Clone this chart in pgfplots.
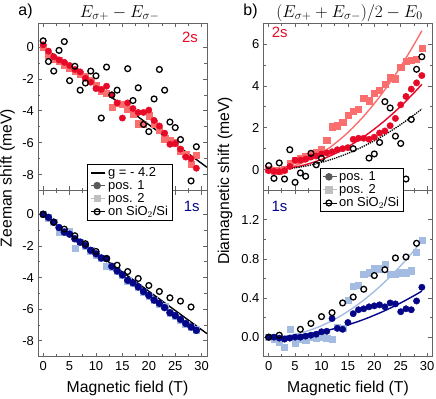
\documentclass[border=0pt]{standalone}
\usepackage{fontspec}
\setmainfont{Liberation Sans}
\usepackage{pgfplots}
\pgfplotsset{compat=1.18}

\definecolor{cred}{RGB}{230,10,40}
\definecolor{cpink}{RGB}{250,110,110}
\definecolor{cnavy}{RGB}{5,5,135}
\definecolor{clblue}{RGB}{165,188,226}
\definecolor{cframe}{RGB}{100,100,100}

\pgfplotsset{
  panel/.style={
    scale only axis, width=169bp,
    xmin=-1, xmax=31,
    xtick={0,5,...,30}, minor x tick num=1, minor y tick num=1,
    axis line style={cframe, line width=0.8bp},
    every tick/.style={cframe, line width=0.8bp},
    major tick length=4bp, minor tick length=2.5bp,
    tick label style={font=\fontsize{13}{13}\selectfont, black},
    /pgf/number format/assume math mode=true,
    xticklabel style={yshift=-1bp},
    yticklabel style={xshift=-0.5bp},
    legend style={font=\fontsize{13}{14}\selectfont, draw=black, line width=0.7bp,
      fill=white, inner xsep=2.5bp, inner ysep=1bp, row sep=-1.5bp,
      cells={anchor=west}, /tikz/every even column/.append style={column sep=1.5bp}},
    legend image code/.code={\path (0bp,0bp) -- (14bp,0bp); \draw[##1] plot coordinates {(6bp,0bp)};},
  },
  lineleg/.style={legend image code/.code={\draw[##1, line width=2bp] (0bp,0bp) -- (14bp,0bp);}},
  pA/.style={only marks, mark=*, mark size=3.2bp, color=#1, forget plot},
  pB/.style={only marks, mark=square*, mark size=3.1bp, color=#1, forget plot},
  pC/.style={only marks, mark=o, mark size=2.9bp, black, mark options={line width=1.3bp}, forget plot},
}

\begin{document}
\begin{tikzpicture}[x=1bp,y=1bp]
\path[use as bounding box] (0bp,0bp) rectangle (436bp,399bp);

% ---------------- top left: Zeeman 2s
\begin{axis}[panel, at={(37.9bp,208.5bp)}, anchor=south west, height=167.2bp,
  ymin=-9, ymax=1.5, ytick={-8,-6,-4,-2,0}, xticklabels={}]
\addplot[pB=cpink] coordinates {(0,0) (1,-0.5) (2,-0.75) (3,-0.85) (4,-1.1) (5,-1.3) (6,-1.5) (7,-1.7) (8,-1.85) (9,-2.05) (10,-2.4) (11,-2.75) (12,-2.9) (13,-3.75) (14,-3.5) (15,-3.6) (16,-3.9) (17,-4.2) (18,-4.8) (19,-4.85) (20,-4.3) (21,-4.8) (22,-5.2) (23,-5.75) (24,-5.85) (25,-6.0) (26,-6.5) (27,-6.7) (28,-7.35) (29,-6.8)};
\addplot[pA=cred] coordinates {(0,0.15) (1,-0.25) (2,-0.6) (3,-0.8) (4,-0.95) (5,-1.15) (6,-1.4) (7,-1.55) (8,-1.95) (9,-2.2) (10,-2.6) (11,-2.65) (12,-2.45) (13,-3.0) (14,-3.5) (15,-4.45) (16,-3.5) (17,-3.85) (18,-4.1) (19,-4.1) (20,-3.95) (21,-4.6) (22,-4.95) (23,-5.4) (24,-6.1) (25,-6.05) (26,-6.4) (27,-6.9) (28,-7.0) (29,-7.6)};
\addplot[pC] coordinates {(0,0.4) (1,-0.9) (2,-1.5) (3,-0.2) (4,0.35) (5,-2.1) (6,-1.2) (7,-2.7) (8,-2.25) (9,-1.5) (10,-1.8) (11,-4.45) (12,-1.25) (13,-3.0) (14,-2.7) (16,-1.35) (17,-3.35) (18,-2.55) (19,-4.85) (20,-5.3) (21,-3.25) (22,-1.4) (23,-2.7) (24,-4.7) (25,-5.05) (26,-5.8) (28,-8.4) (29,-6.25)};
\addplot[black, line width=1.4bp, forget plot] coordinates {(0,0) (31,-7.54)};
\end{axis}

% ---------------- bottom left: Zeeman 1s
\begin{axis}[panel, at={(37.9bp,42.3bp)}, anchor=south west, height=166.2bp,
  ymin=-9, ymax=1.5, ytick={-8,-6,-4,-2,0},
  legend style={at={(0.2923,1.1594)}, anchor=north west}]
\addlegendimage{black, lineleg}
\addlegendentry{g = - 4.2}
\addlegendimage{only marks, mark=*, mark size=3.4bp, color=black!65}
\addlegendentry{pos. 1}
\addlegendimage{only marks, mark=square*, mark size=3.2bp, color=black!25}
\addlegendentry{pos. 2}
\addlegendimage{only marks, mark=o, mark size=2.9bp, black, mark options={line width=1.3bp}}
\addlegendentry{on SiO$_2$/Si}
\addplot[pB=clblue] coordinates {(0,0) (1,-0.22) (2,-0.52) (3,-1.15) (4,-1.1) (5,-1.05) (6,-2.15) (7,-1.78) (8,-2.0) (9,-2.3) (10,-2.55) (11,-2.8) (12,-3.3) (13,-3.32) (14,-3.6) (15,-3.86) (16,-4.2) (17,-4.36) (18,-4.62) (19,-4.9) (20,-5.16) (21,-5.45) (22,-5.66) (23,-5.8) (24,-6.25) (25,-6.43) (26,-6.67) (27,-6.93) (28,-7.15) (29,-7.3)};
\addplot[pA=cnavy, mark size=3.5bp] coordinates {(0,0) (1,-0.2) (2,-0.5) (3,-0.84) (4,-1.13) (5,-1.26) (6,-1.55) (7,-1.76) (8,-1.97) (9,-2.28) (10,-2.5) (11,-2.76) (12,-2.8) (13,-3.29) (14,-3.58) (15,-3.83) (16,-4.17) (17,-4.33) (18,-4.59) (19,-4.88) (20,-5.13) (21,-5.42) (22,-5.63) (23,-5.9) (24,-6.22) (25,-6.4) (26,-6.64) (27,-6.9) (28,-7.12) (29,-7.33)};
\addplot[pC] coordinates {(0,0) (2,-0.5) (4,-0.94) (6,-1.36) (8,-1.86) (10,-2.35) (12,-2.8) (14,-3.22) (16,-3.62) (18,-4.06) (20,-4.5) (22,-4.88) (24,-5.28) (26,-5.49) (28,-5.86)};
\addplot[black, line width=1.4bp, forget plot] coordinates {(0,0) (31,-7.54)};
\end{axis}

% ---------------- top right: diamagnetic 2s
\begin{axis}[panel, at={(263.4bp,208.5bp)}, anchor=south west, height=167.2bp,
  ymin=-1, ymax=7, ytick={0,2,4,6}, xticklabels={}]
\addplot[pB=cpink] coordinates {(0,0.0) (1,-0.05) (2,-0.05) (3,0.0) (4,0.3) (5,0.45) (6,0.55) (7,0.65) (8,0.75) (9,0.85) (10,0.95) (11,1.4) (12,2.05) (13,2.1) (14,2.25) (15,2.6) (16,2.8) (17,2.9) (18,3.4) (19,3.3) (20,3.65) (21,3.8) (22,4.1) (23,4.4) (24,4.35) (25,4.9) (26,5.2) (27,5.25) (28,5.3) (29,5.8)};
\addplot[pA=cred] coordinates {(0,-0.05) (1,-0.08) (2,-0.1) (3,-0.05) (4,0.15) (5,0.45) (6,0.45) (7,0.5) (8,0.6) (9,0.65) (10,0.75) (11,0.8) (12,0.85) (13,0.95) (14,1.0) (15,1.05) (16,1.45) (17,1.5) (18,1.5) (19,1.45) (20,1.55) (21,1.75) (22,1.85) (23,2.1) (24,2.45) (25,3.1) (26,3.5) (27,3.85) (28,4.15) (29,4.5)};
\addplot[pC] coordinates {(0,0.19) (1,-0.42) (2,0.32) (3,-0.45) (4,0.95) (5,-0.61) (6,-0.16) (7,-0.32) (8,0.78) (9,0.23) (10,0.54) (16,1.0) (19,0.55) (20,0.75) (21,1.3) (22,3.25) (23,2.95) (24,1.6) (25,1.25) (26,-0.45) (27,2.4) (28,4.8) (29,5.4)};
\addplot[cpink, line width=1.4bp, smooth, forget plot] coordinates {(0,0) (2,0.032) (4,0.126) (6,0.284) (8,0.506) (10,0.79) (12,1.138) (14,1.548) (16,2.022) (18,2.560) (20,3.16) (22,3.824) (24,4.550) (26,5.340) (28,6.194) (29,6.644)};
\addplot[cred, line width=1.4bp, smooth, forget plot] coordinates {(0,0) (2,0.019) (4,0.078) (6,0.175) (8,0.310) (10,0.485) (12,0.698) (14,0.951) (16,1.242) (18,1.571) (20,1.94) (22,2.347) (24,2.794) (26,3.279) (28,3.802) (29,4.079)};
\addplot[black, line width=1.3bp, densely dotted, smooth, forget plot] coordinates {(0,0) (2,0.014) (4,0.055) (6,0.124) (8,0.221) (10,0.345) (12,0.497) (14,0.676) (16,0.883) (18,1.118) (20,1.38) (22,1.670) (24,1.987) (26,2.332) (28,2.705) (29,2.901)};
\end{axis}

% ---------------- bottom right: diamagnetic 1s
\begin{axis}[panel, at={(263.4bp,42.3bp)}, anchor=south west, height=166.2bp,
  ymin=-0.2, ymax=1.5, ytick={0,0.4,0.8,1.2},
  yticklabel style={/pgf/number format/.cd, fixed, fixed zerofill, precision=1},
  legend style={at={(0.3331,1.1336)}, anchor=north west}]
\addlegendimage{only marks, mark=*, mark size=3.4bp, color=black!65}
\addlegendentry{pos. 1}
\addlegendimage{only marks, mark=square*, mark size=3.2bp, color=black!25}
\addlegendentry{pos. 2}
\addlegendimage{only marks, mark=o, mark size=2.9bp, black, mark options={line width=1.3bp}}
\addlegendentry{on SiO$_2$/Si}
\addplot[pB=clblue] coordinates {(0,0) (1,-0.02) (2,-0.05) (3,-0.1) (4,0.08) (5,-0.06) (6,-0.02) (7,-0.03) (8,0.0) (9,-0.01) (10,0.0) (11,-0.01) (12,-0.02) (13,0.1) (14,0.09) (15,0.38) (16,0.52) (17,0.53) (18,0.64) (19,0.66) (20,0.7) (21,0.7) (22,0.75) (23,0.64) (24,0.64) (25,0.66) (26,0.66) (27,0.68) (28,0.87) (29,0.99)};
\addplot[pA=cnavy] coordinates {(0,0) (1,0) (2,-0.01) (3,-0.02) (4,-0.01) (5,0.0) (6,0.0) (7,0.01) (8,0.02) (9,0.03) (10,0.055) (11,0.06) (12,0.19) (13,0.09) (14,0.08) (15,0.15) (16,0.24) (17,0.28) (18,0.29) (19,0.31) (20,0.32) (21,0.33) (22,0.31) (23,0.35) (24,0.34) (25,0.26) (26,0.29) (27,0.28) (28,0.37) (29,0.51)};
\addplot[pC] coordinates {(0,0) (2,0.02) (6,0.08) (8,0.14) (10,0.21) (12,0.25) (14,0.35) (16,0.41) (18,0.49) (20,0.63) (22,0.69) (24,0.81) (26,0.82) (28,0.96)};
\addplot[clblue, line width=1.4bp, smooth, forget plot] coordinates {(0,0) (2,0.0047) (4,0.0187) (6,0.042) (8,0.075) (10,0.117) (12,0.168) (14,0.229) (16,0.300) (18,0.379) (20,0.468) (22,0.566) (24,0.674) (26,0.791) (28,0.917) (29,0.984)};
\addplot[cnavy, line width=1.4bp, smooth, forget plot] coordinates {(0,0) (2,0.0022) (4,0.009) (6,0.020) (8,0.036) (10,0.056) (12,0.081) (14,0.110) (16,0.143) (18,0.181) (20,0.224) (22,0.271) (24,0.323) (26,0.379) (28,0.439) (29,0.471)};
\end{axis}

% ---------------- texts
\node[font=\fontsize{16}{16}\selectfont] at (25.5bp,387.5bp) {a)};
\node[font=\fontsize{16}{16}\selectfont] at (250.5bp,387.5bp) {b)};
\node[font=\fontsize{16.5}{16.5}\selectfont] at (119.7bp,386bp) {$E_{\sigma+}-E_{\sigma-}$};
\node[font=\fontsize{16.5}{16.5}\selectfont] at (349.5bp,386bp) {$(E_{\sigma+}+E_{\sigma-})/2-E_0$};
\node[rotate=90, font=\fontsize{15.8}{15.8}\selectfont] at (7.5bp,221bp) {Zeeman shift (meV)};
\node[rotate=90, font=\fontsize{15.8}{15.8}\selectfont] at (225bp,218bp) {Diamagnetic shift (meV)};
\node[font=\fontsize{15.8}{15.8}\selectfont] at (127.5bp,10.5bp) {Magnetic field (T)};
\node[font=\fontsize{15.8}{15.8}\selectfont] at (348bp,10.5bp) {Magnetic field (T)};
\node[font=\fontsize{15}{15}\selectfont, text=cred] at (190bp,361.5bp) {2s};
\node[font=\fontsize{15}{15}\selectfont, text=cred] at (279.7bp,366.5bp) {2s};
\node[font=\fontsize{15}{15}\selectfont, text=cnavy] at (191.7bp,193bp) {1s};
\node[font=\fontsize{15}{15}\selectfont, text=cnavy] at (279.5bp,192.5bp) {1s};
\end{tikzpicture}
\end{document}
